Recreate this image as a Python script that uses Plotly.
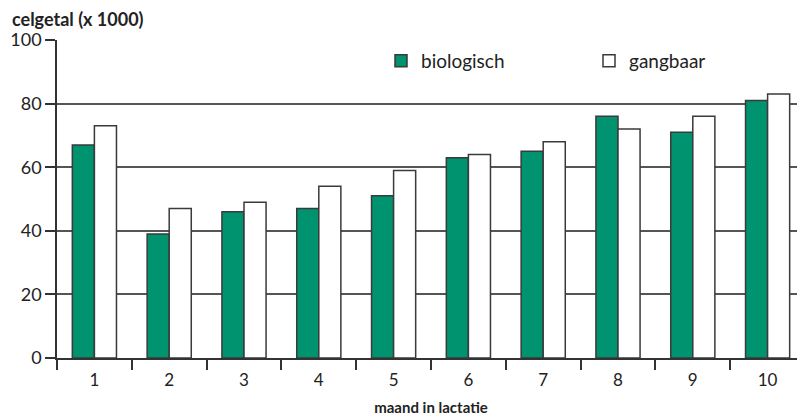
import plotly.graph_objects as go

months = ["1", "2", "3", "4", "5", "6", "7", "8", "9", "10"]
biologisch = [67, 39, 46, 47, 51, 63, 65, 76, 71, 81]
gangbaar = [73, 47, 49, 54, 59, 64, 68, 72, 76, 83]
y_ticks = [0, 20, 40, 60, 80, 100]

FONT = "Lato"
OFF = 8  # default page body margin
PW, PH = 748, 318
fig = go.Figure()
fig.add_trace(go.Bar(x=months, y=biologisch, name="biologisch", legend="legend",
                     marker=dict(color="#00936F", line=dict(color="#3a3a3a", width=1.5))))
fig.add_trace(go.Bar(x=months, y=gangbaar, name="gangbaar", legend="legend2",
                     marker=dict(color="white", line=dict(color="#3a3a3a", width=1.5))))

leg = dict(orientation="h", xanchor="left", yanchor="middle", bgcolor="rgba(0,0,0,0)",
           font=dict(size=19, family=FONT))
fig.update_layout(
    width=805 - OFF, height=419 - OFF,
    margin=dict(l=57 - OFF, r=0, t=40 - OFF, b=61, autoexpand=False),
    paper_bgcolor="white", plot_bgcolor="white",
    barmode="group", bargap=0.41, bargroupgap=0,
    font=dict(family=FONT, color="#222", size=16),
    showlegend=True,
    legend=dict(leg, x=(381 - 57) / PW, y=(358 - 61) / PH),
    legend2=dict(leg, x=(589 - 57) / PW, y=(358 - 61) / PH),
    annotations=[dict(text="<b>celgetal (x 1000)</b>", xref="paper", yref="paper",
                      x=-47 / PW, y=1 + 21 / PH, xanchor="left", yanchor="middle",
                      showarrow=False, font=dict(size=18, family=FONT))],
)
fig.update_xaxes(type="category", tickson="boundaries", ticks="outside", ticklen=10,
                 tickcolor="#333", tickwidth=1.5, showline=True, linecolor="#333", linewidth=1.5,
                 showgrid=False, tickfont=dict(size=17, family=FONT), automargin=False,
                 ticklabelstandoff=6,
                 title=dict(text="<b>maand in lactatie</b>", font=dict(size=15, family=FONT), standoff=13))
fig.update_yaxes(range=[0, 100], tickvals=y_ticks, ticks="outside", ticklen=10,
                 tickcolor="#333", tickwidth=1.5, showline=True, linecolor="#333", linewidth=1.5,
                 showgrid=True, gridcolor="#555", gridwidth=1.5, zeroline=False, automargin=False,
                 tickfont=dict(size=18, family=FONT))
fig.write_html("out.html")
